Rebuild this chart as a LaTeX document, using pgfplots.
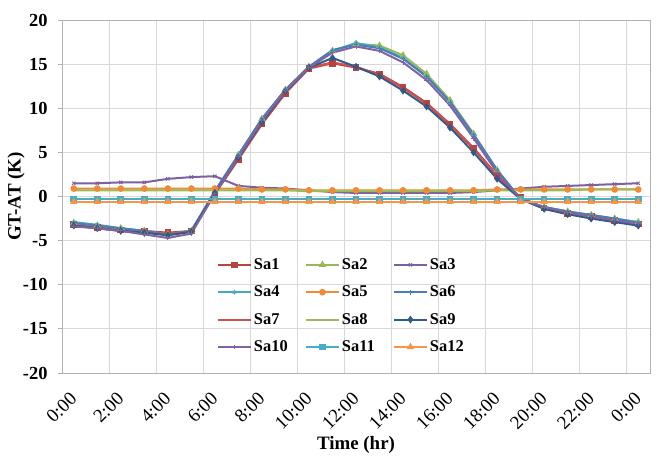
\documentclass[border=0pt]{standalone}
\usepackage{fontspec}
\setmainfont{Liberation Serif}
\usepackage{pgfplots}
\usepackage{pgfplotstable}
\pgfplotsset{compat=1.18}
\definecolor{c1}{HTML}{B9433F}
\definecolor{c2}{HTML}{98B954}
\definecolor{c3}{HTML}{7D60A0}
\definecolor{c4}{HTML}{46AAC5}
\definecolor{c5}{HTML}{F08A36}
\definecolor{c6}{HTML}{4A7EBB}
\definecolor{c7}{HTML}{D0504D}
\definecolor{c8}{HTML}{9BBB59}
\definecolor{c9}{HTML}{2F5A8C}
\definecolor{c10}{HTML}{8064A2}
\definecolor{c11}{HTML}{4BACC6}
\definecolor{c12}{HTML}{F79646}
\pgfplotstableread{
x    s1    s2    s3   s4    s5   s6    s7    s8   s9    s10   s11   s12
0.5  -3.2  -3.0  1.5  -2.9  0.9  -3.0  -3.3  0.7  -3.3  -3.4  -0.3  -0.6
1.5  -3.5  -3.3  1.5  -3.2  0.9  -3.3  -3.6  0.7  -3.6  -3.6  -0.3  -0.6
2.5  -3.8  -3.6  1.6  -3.6  0.9  -3.6  -3.9  0.7  -3.9  -3.9  -0.3  -0.6
3.5  -3.9  -3.9  1.6  -3.9  0.9  -3.9  -4.1  0.7  -4.1  -4.3  -0.3  -0.6
4.5  -4.1  -4.3  2.0  -4.3  0.9  -4.3  -4.3  0.7  -4.4  -4.7  -0.3  -0.6
5.5  -3.9  -3.9  2.2  -3.9  0.9  -3.9  -4.0  0.7  -4.0  -4.2  -0.3  -0.6
6.5   0.3   0.6  2.3   0.6  0.9   0.6   0.3  0.7   0.4   0.3  -0.3  -0.6
7.5   4.2   4.7  1.2   4.7  0.9   4.7   4.3  0.7   4.4   4.5  -0.3  -0.6
8.5   8.2   8.8  1.0   8.8  0.8   8.8   8.3  0.7   8.4   8.6  -0.3  -0.6
9.5  11.7  12.1  0.9  12.1  0.8  12.1  11.8  0.7  11.9  12.0  -0.3  -0.6
10.5 14.5  14.7  0.7  14.7  0.7  14.7  14.6  0.6  14.6  14.6  -0.3  -0.6
11.5 15.1  16.5  0.5  16.5  0.7  16.6  15.2  0.6  15.7  16.3  -0.3  -0.6
12.5 14.6  17.3  0.4  17.4  0.7  17.2  14.7  0.6  14.7  17.0  -0.3  -0.6
13.5 13.9  17.1  0.4  16.9  0.7  16.8  13.8  0.6  13.6  16.5  -0.3  -0.6
14.5 12.4  16.0  0.4  15.7  0.7  15.6  12.3  0.6  12.0  15.2  -0.3  -0.6
15.5 10.6  13.9  0.4  13.6  0.7  13.6  10.5  0.6  10.2  13.2  -0.3  -0.6
16.5  8.2  10.9  0.4  10.7  0.7  10.7   8.1  0.6   7.8  10.3  -0.3  -0.6
17.5  5.5   7.1  0.5   7.0  0.7   7.0   5.4  0.6   5.0   6.6  -0.3  -0.6
18.5  2.4   3.0  0.7   3.0  0.8   3.0   2.3  0.7   2.0   2.7  -0.3  -0.6
19.5 -0.1  -0.3  0.9  -0.3  0.8  -0.3  -0.2  0.7  -0.3  -0.3  -0.3  -0.6
20.5 -1.3  -1.2  1.1  -1.2  0.8  -1.2  -1.4  0.7  -1.4  -1.2  -0.3  -0.6
21.5 -1.9  -1.7  1.2  -1.7  0.8  -1.7  -2.0  0.7  -2.0  -1.8  -0.3  -0.6
22.5 -2.3  -2.1  1.3  -2.1  0.8  -2.1  -2.4  0.8  -2.5  -2.3  -0.3  -0.6
23.5 -2.7  -2.5  1.4  -2.5  0.8  -2.5  -2.8  0.8  -2.9  -2.7  -0.3  -0.6
24.5 -3.1  -2.9  1.5  -2.9  0.8  -3.0  -3.2  0.8  -3.3  -3.1  -0.3  -0.6
}\data
\begin{document}
\begin{tikzpicture}
\begin{axis}[
  scale only axis, width=588bp, height=353bp,
  xmin=0, xmax=25, ymin=-20, ymax=20,
  ytick={-20,-15,...,20},
  xtick={0.5,2.5,...,24.5},
  xticklabels={0:00,2:00,4:00,6:00,8:00,10:00,12:00,14:00,16:00,18:00,20:00,22:00,0:00},
  minor xtick={2,4,...,24},
  xminorgrids, ymajorgrids,
  grid style={draw=black!15, line width=0.8bp},
  minor grid style={draw=black!15, line width=0.8bp},
  axis line style={draw=black!30, line width=0.8bp},
  xtick pos=bottom, ytick pos=left,
  major x tick style={draw=none}, minor tick length=0pt,
  tick align=outside, major tick length=4bp,
  y tick style={draw=black!30, line width=0.8bp},
  /pgf/number format/assume math mode=true,
  yticklabel style={font=\fontsize{18.5}{18.5}\selectfont\bfseries, xshift=-7bp},
  xticklabel style={font=\fontsize{19}{19}\selectfont, rotate=45, anchor=east, yshift=-13bp, xshift=-10bp},
  xlabel={Time (hr)}, ylabel={GT-AT (K)},
  xlabel style={font=\fontsize{19}{19}\selectfont\bfseries, at={(axis description cs:0.5,-0.204)}, anchor=center},
  ylabel style={font=\fontsize{19}{19}\selectfont\bfseries, at={(axis description cs:-0.078,0.5)}, anchor=center},
  legend columns=3, legend cell align=left,
  legend style={at={(rel axis cs:0.488,0.19)}, anchor=center, draw=none, fill=none,
    font=\fontsize{16.5}{16.5}\selectfont\bfseries, row sep=11bp,
    /tikz/every even column/.append style={text width=49bp}},
  legend image code/.code={\draw[mark repeat=2,mark phase=2,#1] plot coordinates {(0bp,0bp) (16.5bp,0bp) (33bp,0bp)};},
  every axis plot/.append style={line width=2bp, mark size=2.3bp},
]
\addplot[c1, mark=square*, mark options={solid,fill=c1}] table[x=x,y=s1]{\data};
\addlegendentry{Sa1}
\addplot[c2, mark=triangle*, mark options={solid,fill=c2}] table[x=x,y=s2]{\data};
\addlegendentry{Sa2}
\addplot[c3, mark=x, mark options={solid,line width=1bp}] table[x=x,y=s3]{\data};
\addlegendentry{Sa3}
\addplot[c4, mark=asterisk, mark options={solid,line width=1bp}] table[x=x,y=s4]{\data};
\addlegendentry{Sa4}
\addplot[c5, mark=*, mark options={solid,fill=c5}] table[x=x,y=s5]{\data};
\addlegendentry{Sa5}
\addplot[c6, mark=+, mark options={solid,line width=1bp}] table[x=x,y=s6]{\data};
\addlegendentry{Sa6}
\addplot[c7, no marks] table[x=x,y=s7]{\data};
\addlegendentry{Sa7}
\addplot[c8, no marks] table[x=x,y=s8]{\data};
\addlegendentry{Sa8}
\addplot[c9, mark=diamond*, mark options={solid,fill=c9}] table[x=x,y=s9]{\data};
\addlegendentry{Sa9}
\addplot[c10, mark=+, mark options={solid,line width=1bp}] table[x=x,y=s10]{\data};
\addlegendentry{Sa10}
\addplot[c11, mark=square*, mark options={solid,fill=c11}] table[x=x,y=s11]{\data};
\addlegendentry{Sa11}
\addplot[c12, mark=triangle*, mark options={solid,fill=c12}] table[x=x,y=s12]{\data};
\addlegendentry{Sa12}
\end{axis}
\pgfresetboundingbox
\path[use as bounding box] ([xshift=-62bp,yshift=-87bp]current axis.south west) rectangle ([xshift=598bp,yshift=373bp]current axis.south west);
\end{tikzpicture}
\end{document}
